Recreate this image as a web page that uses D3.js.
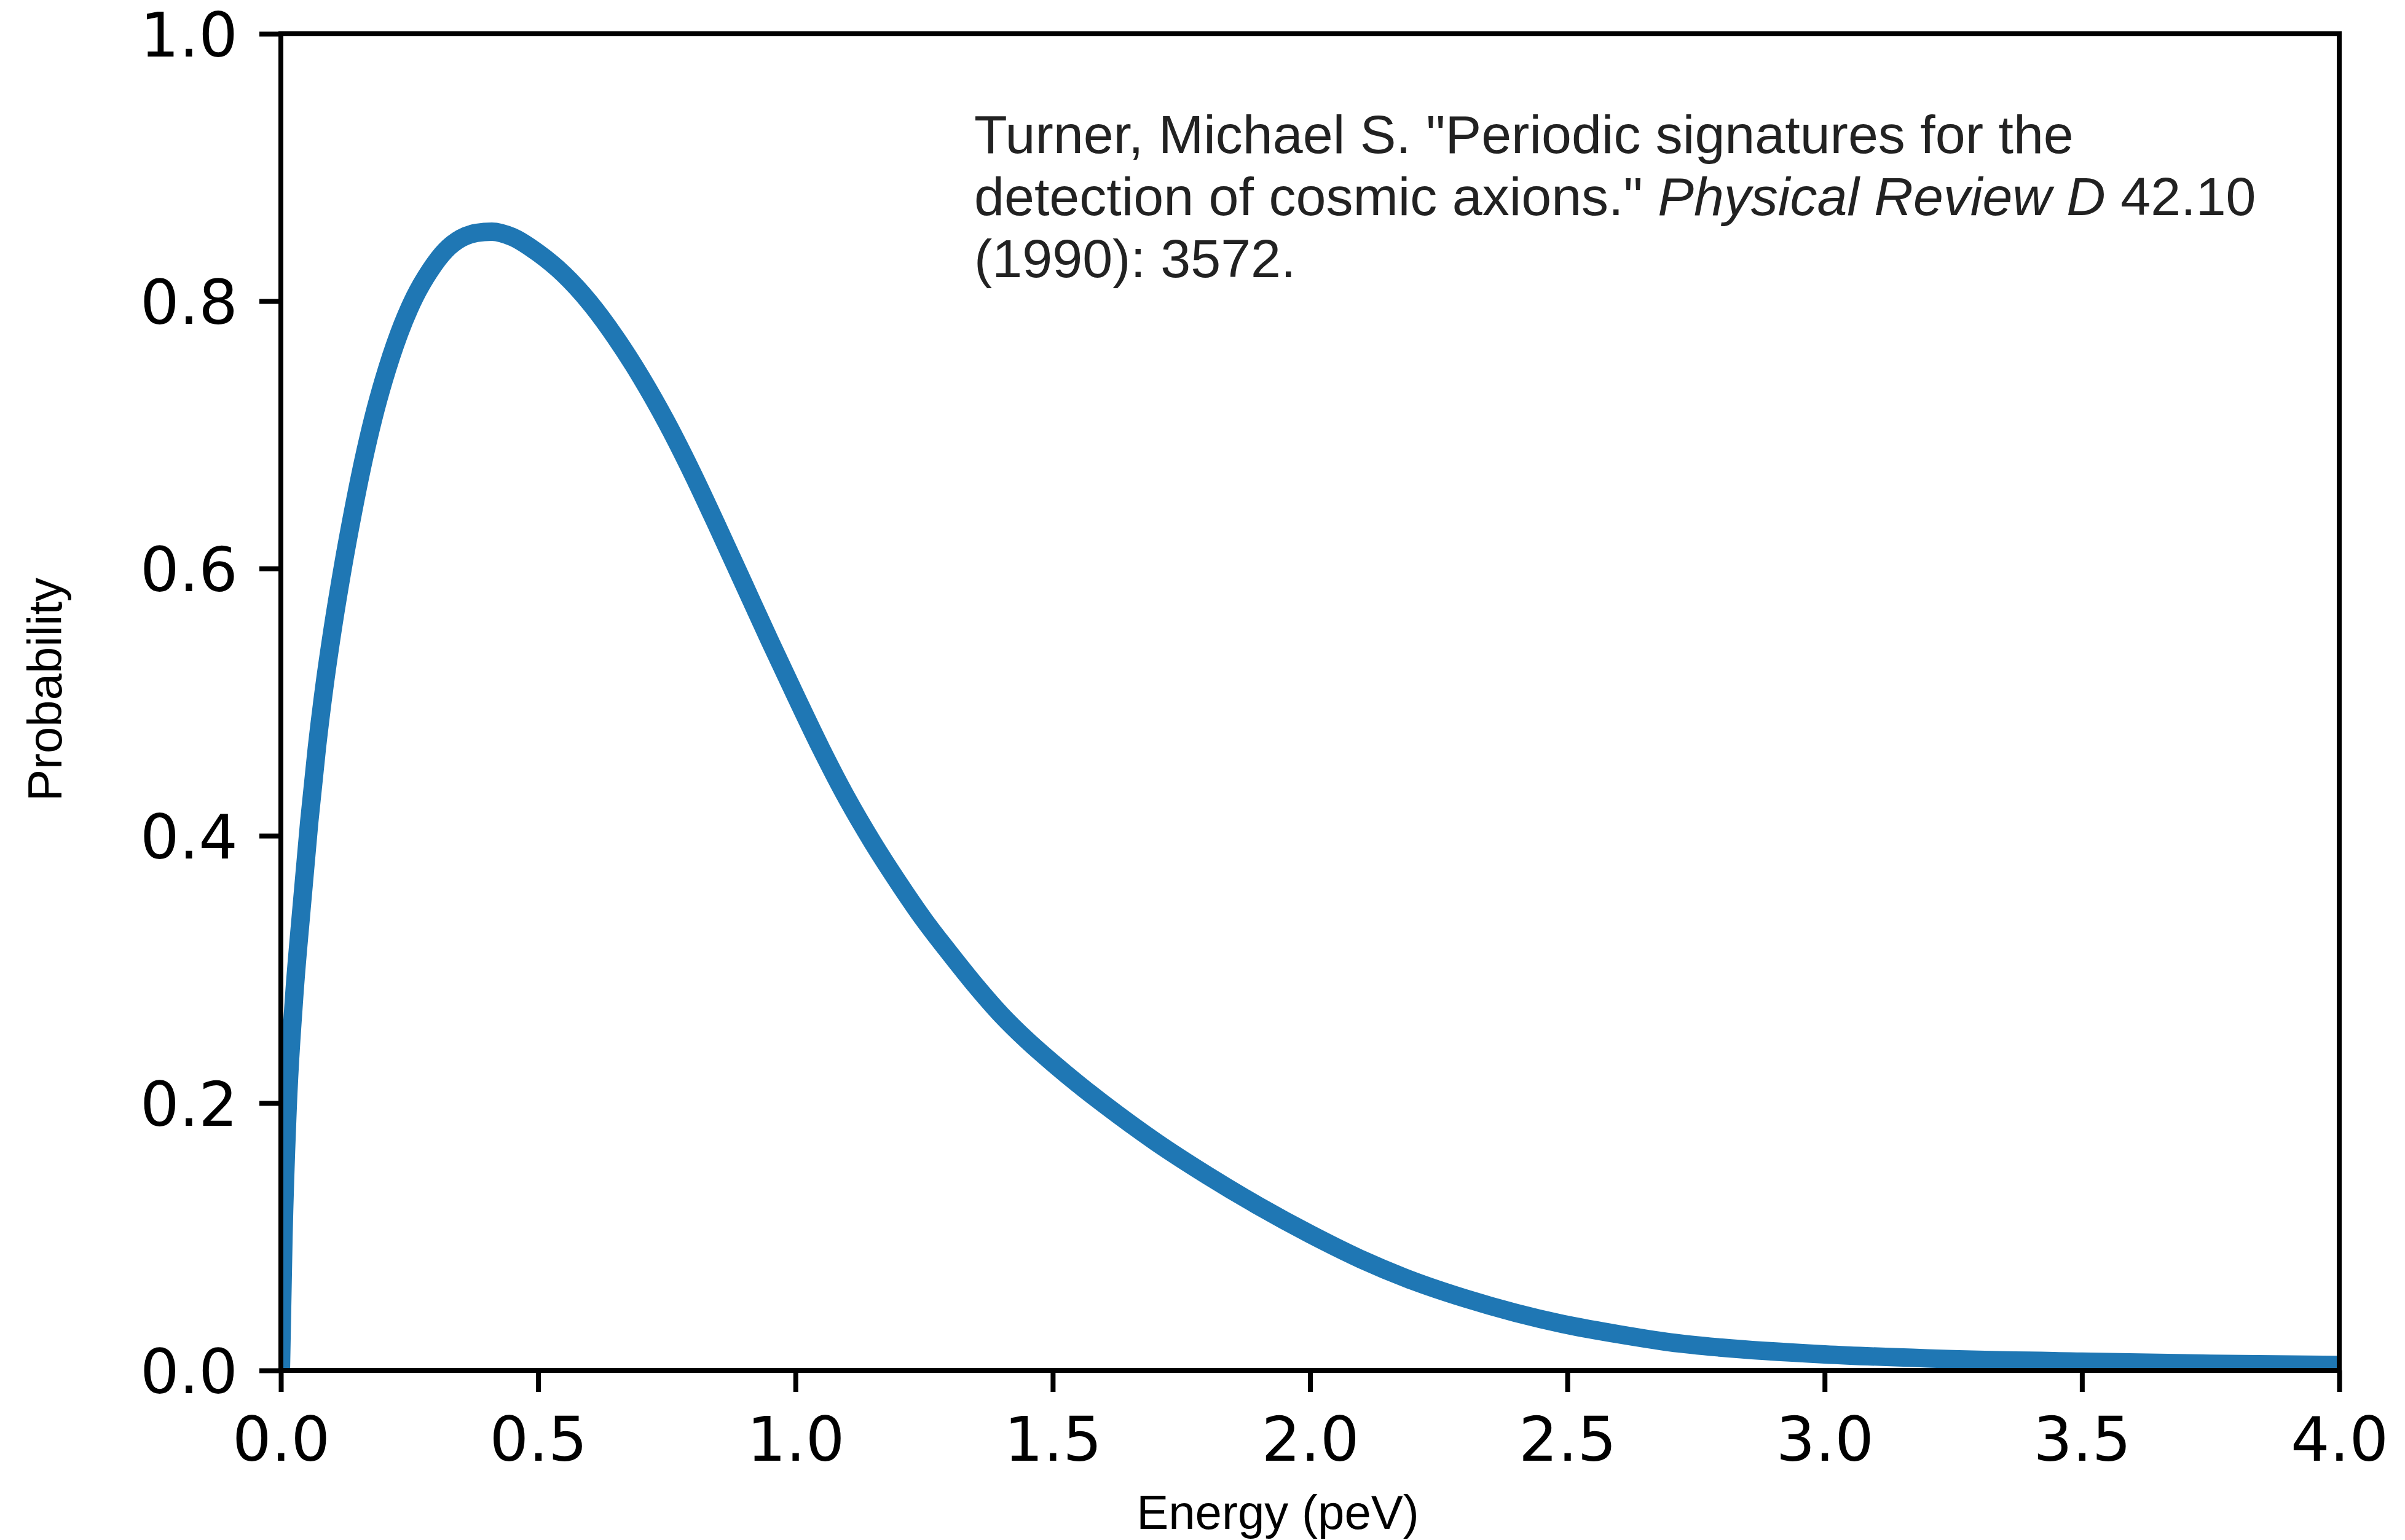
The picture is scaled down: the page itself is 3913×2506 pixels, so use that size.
<!DOCTYPE html>
<html>
<head>
<meta charset="utf-8">
<script src="https://cdn.jsdelivr.net/npm/d3@7"></script>
<style>
  body { margin: 0; background: #fff; }
  svg { display: block; }
</style>
</head>
<body>
<svg id="chart" width="3913" height="2506"></svg>
<script>
// energy (peV) and probability
var energy = [0, 0.005, 0.013, 0.025, 0.04, 0.055, 0.07, 0.085, 0.10, 0.12, 0.14, 0.16,
  0.18, 0.20, 0.23, 0.26, 0.29, 0.32, 0.35, 0.38, 0.41, 0.45, 0.50, 0.55, 0.60, 0.65,
  0.70, 0.75, 0.80, 0.85, 0.90, 0.95, 1.00, 1.05, 1.10, 1.15, 1.20, 1.25, 1.30, 1.35,
  1.40, 1.45, 1.50, 1.55, 1.60, 1.70, 1.80, 1.90, 2.00, 2.10, 2.20, 2.30, 2.40, 2.50,
  2.60, 2.70, 2.80, 3.00, 3.20, 3.50, 3.75, 4.00];
var probability = [0, 0.10, 0.195, 0.275, 0.345, 0.41, 0.466, 0.513, 0.553, 0.600, 0.642, 0.680,
  0.713, 0.741, 0.776, 0.803, 0.823, 0.838, 0.847, 0.851, 0.852, 0.848, 0.836, 0.820, 0.799, 0.773,
  0.743, 0.709, 0.671, 0.630, 0.588, 0.546, 0.505, 0.465, 0.428, 0.395, 0.365, 0.337, 0.312, 0.288,
  0.266, 0.247, 0.230, 0.214, 0.199, 0.171, 0.146, 0.123, 0.102, 0.083, 0.067, 0.054, 0.043, 0.034,
  0.027, 0.021, 0.017, 0.012, 0.009, 0.0065, 0.005, 0.004];
var xTicks = [0, 0.5, 1.0, 1.5, 2.0, 2.5, 3.0, 3.5, 4.0];
var yTicks = [0, 0.2, 0.4, 0.6, 0.8, 1.0];
var citation = [
  [{t: 'Turner, Michael S. "Periodic signatures for the'}],
  [{t: 'detection of cosmic axions." '}, {t: 'Physical Review D', it: true}, {t: ' 42.10'}],
  [{t: '(1990): 3572.'}]
];

var svg = d3.select("#chart");
var plotL = 457, plotR = 3806, plotT = 55, plotB = 2230;

var x = d3.scaleLinear().domain([0, 4]).range([plotL, plotR]);
var y = d3.scaleLinear().domain([0, 1]).range([plotB, plotT]);

var pts = energy.map(function(e, i) { return [e, probability[i]]; });

svg.append("defs").append("clipPath").attr("id", "plotclip")
  .append("rect")
    .attr("x", plotL).attr("y", plotT)
    .attr("width", plotR - plotL).attr("height", plotB - plotT);

var line = d3.line()
  .x(function(d) { return x(d[0]); })
  .y(function(d) { return y(d[1]); })
  .curve(d3.curveMonotoneX);

svg.append("path")
  .datum(pts)
  .attr("clip-path", "url(#plotclip)")
  .attr("d", line)
  .attr("fill", "none")
  .attr("stroke", "#1f77b4")
  .attr("stroke-width", 30)
  .attr("stroke-linejoin", "round");

// axes
var xAxis = svg.append("g")
  .attr("transform", "translate(0," + plotB + ")")
  .call(d3.axisBottom(x).tickValues(xTicks).tickFormat(d3.format(".1f"))
    .tickSize(35).tickPadding(41));
var yAxis = svg.append("g")
  .attr("transform", "translate(" + plotL + ",0)")
  .call(d3.axisLeft(y).tickValues(yTicks).tickFormat(d3.format(".1f"))
    .tickSize(35).tickPadding(35));

[xAxis, yAxis].forEach(function(a) {
  a.select(".domain").remove();
  a.selectAll(".tick line").attr("stroke", "#000").attr("stroke-width", 8);
  a.selectAll(".tick text")
    .attr("fill", "#000")
    .style("font-family", "'DejaVu Sans'")
    .style("font-size", "100px");
});
yAxis.selectAll(".tick text").attr("dy", "0.36em");

// frame
svg.append("rect")
  .attr("x", plotL).attr("y", plotT)
  .attr("width", plotR - plotL).attr("height", plotB - plotT)
  .attr("fill", "none")
  .attr("stroke", "#000")
  .attr("stroke-width", 8)
  .attr("stroke-linecap", "square");

svg.append("text")
  .attr("x", 2079).attr("y", 2488)
  .attr("text-anchor", "middle")
  .style("font-family", "'Liberation Sans', Arial, sans-serif")
  .style("font-size", "78px")
  .text("Energy (peV)");

svg.append("text")
  .attr("transform", "translate(100,1122) rotate(-90)")
  .attr("text-anchor", "middle")
  .style("font-family", "'Liberation Sans', Arial, sans-serif")
  .style("font-size", "78px")
  .text("Probability");

var note = svg.append("text")
  .style("font-family", "'Liberation Sans', Arial, sans-serif")
  .style("font-size", "88px")
  .attr("fill", "#222");
citation.forEach(function(parts, i) {
  var row = note.append("tspan").attr("x", 1585).attr("y", 249 + i * 101);
  parts.forEach(function(p, j) {
    var s = j === 0 ? row : note.append("tspan");
    s.text(p.t);
    if (p.it) s.style("font-style", "italic");
  });
});
</script>
</body>
</html>
